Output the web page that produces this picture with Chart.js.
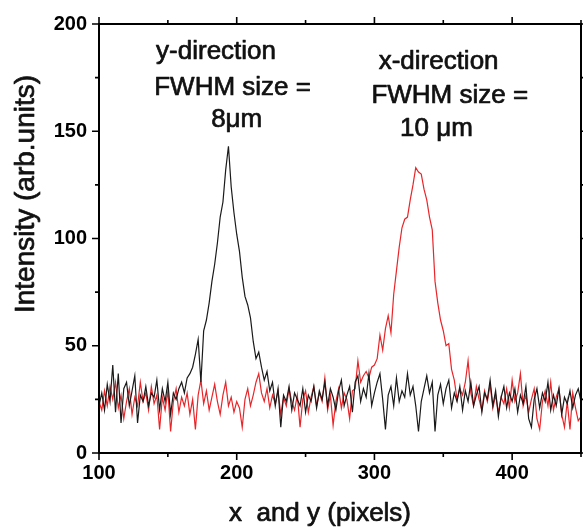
<!DOCTYPE html>
<html>
<head>
<meta charset="utf-8">
<script src="https://cdn.jsdelivr.net/npm/chart.js@4.4.0/dist/chart.umd.min.js"></script>
<style>
  html, body { margin: 0; padding: 0; background: #fff; }
  #wrap { width: 583px; height: 529px; }
</style>
</head>
<body>
<div id="wrap"><canvas id="profile-chart" width="583" height="529"></canvas></div>
<script>
// Beam profiles along x and y (every 2nd pixel)
const pixels = [
  100, 102, 104, 106, 108, 110, 112, 114, 116, 118, 120, 122, 124, 126, 128, 130, 132, 134, 136, 138,
  140, 142, 144, 146, 148, 150, 152, 154, 156, 158, 160, 162, 164, 166, 168, 170, 172, 174, 176, 178,
  180, 182, 184, 186, 188, 190, 192, 194, 196, 198, 200, 202, 204, 206, 208, 210, 212, 214, 216, 218,
  220, 222, 224, 226, 228, 230, 232, 234, 236, 238, 240, 242, 244, 246, 248, 250, 252, 254, 256, 258,
  260, 262, 264, 266, 268, 270, 272, 274, 276, 278, 280, 282, 284, 286, 288, 290, 292, 294, 296, 298,
  300, 302, 304, 306, 308, 310, 312, 314, 316, 318, 320, 322, 324, 326, 328, 330, 332, 334, 336, 338,
  340, 342, 344, 346, 348, 350, 352, 354, 356, 358, 360, 362, 364, 366, 368, 370, 372, 374, 376, 378,
  380, 382, 384, 386, 388, 390, 392, 394, 396, 398, 400, 402, 404, 406, 408, 410, 412, 414, 416, 418,
  420, 422, 424, 426, 428, 430, 432, 434, 436, 438, 440, 442, 444, 446, 448, 450
];

const yDirection = [
  22, 28, 20, 32, 24, 41, 19, 37, 14, 30, 33, 22, 29, 36, 14, 27, 24, 31, 22, 28,
  26, 34, 20, 30, 24, 33, 18, 28, 25, 30, 33, 28, 35, 37, 40, 46, 53, 33, 57, 62,
  70, 80, 88, 98, 110, 117, 132, 143, 124, 112, 102, 94, 82, 73, 69, 63, 52, 44, 47, 40,
  34, 38, 29, 33, 22, 30, 12, 27, 24, 31, 20, 28, 25, 22, 30, 19, 27, 24, 31, 21,
  29, 25, 33, 22, 30, 26, 20, 29, 34, 22, 27, 31, 19, 33, 36, 24, 30, 26, 37, 22,
  28, 33, 37, 25, 11, 27, 31, 22, 35, 24, 29, 26, 37, 27, 31, 22, 10, 24, 30, 36,
  28, 33, 10, 27, 32, 23, 30, 34, 21, 28, 24, 31, 20, 29, 24, 33, 22, 27, 31, 19,
  28, 25, 34, 22, 29, 17, 26, 31, 21, 28, 24, 30, 19, 27, 23, 31, 16, 12, 25, 30,
  21, 28, 24, 33, 20, 27, 22, 30, 18, 26, 23, 29, 21, 27, 30, 24
];

const xDirection = [
  24, 20, 29, 22, 31, 25, 33, 21, 27, 16, 24, 30, 18, 26, 22, 33, 24, 28, 20, 31,
  23, 27, 11, 26, 20, 29, 10, 24, 30, 19, 26, 22, 28, 18, 25, 11, 27, 34, 23, 29,
  20, 26, 32, 24, 18, 27, 33, 22, 26, 19, 24, 21, 12, 25, 30, 22, 27, 33, 37, 28,
  24, 30, 21, 27, 23, 29, 18, 26, 22, 30, 24, 20, 27, 12, 25, 29, 19, 26, 31, 22,
  28, 24, 35, 20, 27, 13, 24, 30, 21, 28, 25, 16, 29, 30, 43, 33, 36, 38, 35, 40,
  41, 44, 55, 48, 58, 64, 56, 74, 85, 96, 105, 109, 110, 118, 125, 133, 131, 130, 123, 118,
  110, 104, 80, 70, 62, 57, 50, 51, 39, 34, 25, 30, 27, 33, 43, 28, 22, 31, 25, 20,
  29, 24, 32, 21, 27, 19, 26, 23, 30, 21, 34, 24, 28, 37, 22, 27, 19, 25, 30, 16,
  11, 24, 29, 22, 33, 20, 26, 30, 18, 12, 24, 11, 28, 21, 15, 17
];

const xTicks = [100, 200, 300, 400];
const yTicks = [0, 50, 100, 150, 200];

const noteText = ['y-direction', 'FWHM size =', '8\u03bcm', 'x-direction', 'FWHM size =', '10 \u03bcm'];
const xTitle = 'x  and y (pixels)';
const yTitle = 'Intensity (arb.units)';

const FONT = '"Liberation Sans", Arial, Helvetica, sans-serif';

// scanned text is a bit heavier than plain regular, so give it a thin outline
function heavyText(ctx, text, x, y) {
  ctx.fillText(text, x, y);
  ctx.strokeText(text, x, y);
}

// frame, tick marks, axis titles and the in-plot notes
const framePlugin = {
  id: 'frame',
  afterDraw(chart) {
    const { ctx, chartArea: a, scales: { x, y } } = chart;
    ctx.save();
    ctx.strokeStyle = '#000';
    ctx.lineWidth = 2;
    ctx.strokeRect(a.left, a.top, a.right - a.left, a.bottom - a.top);

    ctx.lineWidth = 1.6;
    ctx.beginPath();
    for (let v = 100; v <= 450; v += 50) {
      const px = x.getPixelForValue(v);
      const len = v % 100 === 0 ? 7 : 4;
      ctx.moveTo(px, a.bottom); ctx.lineTo(px, a.bottom + len);
      ctx.moveTo(px, a.top); ctx.lineTo(px, a.top - len);
    }
    for (let v = 0; v <= 200; v += 25) {
      const py = y.getPixelForValue(v);
      const len = v % 50 === 0 ? 7 : 4;
      ctx.moveTo(a.left, py); ctx.lineTo(a.left - len, py);
      ctx.moveTo(a.right, py); ctx.lineTo(a.right + len, py);
    }
    ctx.stroke();

    ctx.fillStyle = '#111';
    ctx.strokeStyle = '#111';
    ctx.lineWidth = 0.7;
    ctx.lineJoin = 'round';
    ctx.textAlign = 'center';
    ctx.textBaseline = 'alphabetic';

    // notes, anchored in data coordinates
    ctx.font = '26px ' + FONT;
    const spots = [[185, 183.5], [197, 167], [200, 152], [346.6, 179], [354.7, 163], [345, 148]];
    noteText.forEach((t, i) => {
      heavyText(ctx, t, x.getPixelForValue(spots[i][0]), y.getPixelForValue(spots[i][1]));
    });

    ctx.font = '26px ' + FONT;
    heavyText(ctx, xTitle, 320, 521);

    ctx.font = '28px ' + FONT;
    ctx.translate(26, 194);
    ctx.rotate(-Math.PI / 2);
    ctx.textBaseline = 'middle';
    heavyText(ctx, yTitle, 0, 0);
    ctx.restore();
  }
};

const ctx = document.getElementById('profile-chart').getContext('2d');

new Chart(ctx, {
  type: 'line',
  data: {
    datasets: [
      {
        label: 'y-direction',
        data: pixels.map((p, i) => ({ x: p, y: yDirection[i] })),
        borderColor: '#1a1a1a',
        borderWidth: 1.2,
        pointRadius: 0,
        tension: 0,
        fill: false,
      },
      {
        label: 'x-direction',
        data: pixels.map((p, i) => ({ x: p, y: xDirection[i] })),
        borderColor: '#e8262a',
        borderWidth: 1.2,
        pointRadius: 0,
        tension: 0,
        fill: false,
      },
    ],
  },
  options: {
    responsive: false,
    devicePixelRatio: 1,
    animation: false,
    layout: { padding: { top: 19, right: 2, left: 0, bottom: 0 } },
    plugins: {
      legend: { display: false },
      tooltip: { enabled: false },
    },
    scales: {
      x: {
        type: 'linear',
        min: 100,
        max: 450,
        afterBuildTicks: (scale) => { scale.ticks = xTicks.map(v => ({ value: v })); },
        afterFit: (scale) => { scale.height = 76; },
        grid: { display: false, drawTicks: false },
        border: { display: false },
        ticks: {
          color: '#000',
          padding: 8,
          maxRotation: 0,
          font: { family: FONT, size: 20, weight: 'bold' },
        },
      },
      y: {
        min: 0,
        max: 200,
        afterBuildTicks: (scale) => { scale.ticks = yTicks.map(v => ({ value: v })); },
        afterFit: (scale) => { scale.width = 99; },
        grid: { display: false, drawTicks: false },
        border: { display: false },
        ticks: {
          color: '#000',
          padding: 12,
          font: { family: FONT, size: 20, weight: 'bold' },
        },
      },
    },
  },
  plugins: [framePlugin],
});
</script>
</body>
</html>
